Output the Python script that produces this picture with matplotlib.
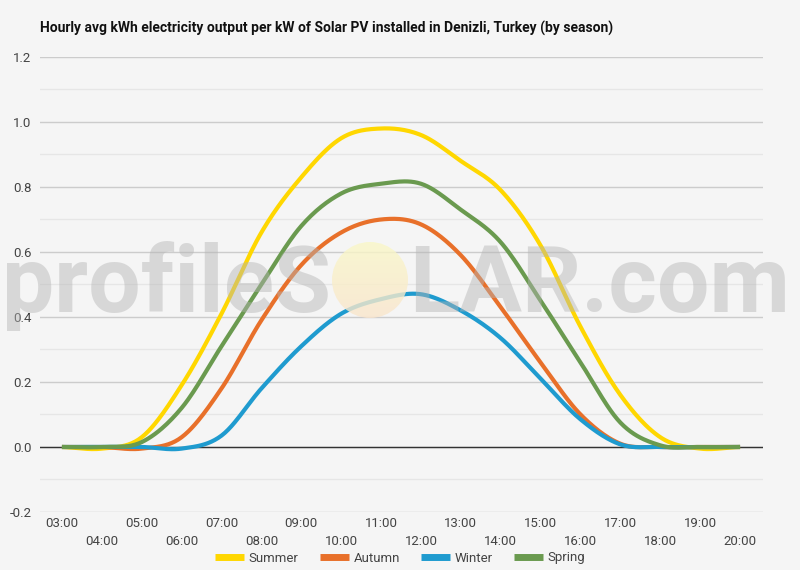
import numpy as np
import matplotlib
matplotlib.use("Agg")
import matplotlib.pyplot as plt
from matplotlib.patches import Ellipse

plt.rcParams['font.family'] = ['Roboto', 'DejaVu Sans']

hours = ['03:00', '04:00', '05:00', '06:00', '07:00', '08:00', '09:00', '10:00', '11:00',
         '12:00', '13:00', '14:00', '15:00', '16:00', '17:00', '18:00', '19:00', '20:00']
summer = [0, -0.005, 0.03, 0.19, 0.41, 0.66, 0.83, 0.95, 0.98, 0.96, 0.88, 0.79, 0.62, 0.37, 0.16, 0.03, -0.005, 0]
autumn = [0, 0, -0.005, 0.03, 0.18, 0.39, 0.56, 0.66, 0.70, 0.685, 0.59, 0.43, 0.26, 0.10, 0.01, 0, 0, 0]
winter = [0, 0, 0, -0.005, 0.035, 0.18, 0.31, 0.41, 0.455, 0.47, 0.42, 0.335, 0.21, 0.085, 0.008, 0, 0, 0]
spring = [0, 0, 0.015, 0.12, 0.31, 0.50, 0.68, 0.78, 0.81, 0.81, 0.73, 0.63, 0.45, 0.26, 0.075, 0.005, 0, 0]

seasons = ['Summer', 'Autumn', 'Winter', 'Spring']
colors = ['#FFD700', '#E8702A', '#1F9BCF', '#6A9A4F']


def smooth(vals, n=24):
    # catmull-rom curve through the hourly points
    p = np.asarray(vals, float)
    p = np.concatenate([[p[0]], p, [p[-1]]])
    xs, ys = [], []
    t = np.linspace(0, 1, n, endpoint=False)
    for i in range(len(vals) - 1):
        p0, p1, p2, p3 = p[i], p[i + 1], p[i + 2], p[i + 3]
        ys.append(0.5 * (2 * p1 + (-p0 + p2) * t + (2 * p0 - 5 * p1 + 4 * p2 - p3) * t ** 2
                         + (-p0 + 3 * p1 - 3 * p2 + p3) * t ** 3))
        xs.append(i + t)
    xs.append([len(vals) - 1])
    ys.append([vals[-1]])
    return np.concatenate(xs), np.concatenate(ys)


fig = plt.figure(figsize=(8, 5.7), dpi=100, facecolor='#f5f5f5')
ax = fig.add_axes([0.05, 0.1018, 0.904, 0.7982])
ax.set_facecolor('#f5f5f5')

for name, vals, c in zip(seasons, [summer, autumn, winter, spring], colors):
    x, y = smooth(vals)
    ax.plot(x, y, color=c, lw=3, label=name, solid_capstyle='butt', zorder=3)

ax.set_xlim(-0.55, 17.58)
ax.set_ylim(-0.2, 1.2)
ax.set_yticks(np.arange(-0.2, 1.21, 0.2))
ax.set_yticklabels(['-0.2', '0.0', '0.2', '0.4', '0.6', '0.8', '1.0', '1.2'])
ax.set_yticks(np.arange(-0.1, 1.2, 0.2), minor=True)
ax.grid(axis='y', which='major', color='#cccccc', lw=1)
ax.grid(axis='y', which='minor', color='#e6e6e6', lw=1)
ax.axhline(0, color='#333333', lw=1, zorder=2)
ax.set_axisbelow(True)

ax.set_xticks(range(len(hours)))
ax.set_xticklabels(hours)
for i, tk in enumerate(ax.xaxis.get_major_ticks()):
    tk.set_pad(3.5 if i % 2 == 0 else 16.5)
ax.tick_params(which='both', length=0, labelsize=9.5, labelcolor='#444444')
ax.tick_params(axis='y', pad=6)
for s in ax.spines.values():
    s.set_visible(False)

fig.text(0.05, 1 - 28 / 570, 'Hourly avg kWh electricity output per kW of Solar PV installed in Denizli, Turkey (by season)',
         fontsize=10, fontweight='bold', va='center', color='#111111')

# watermark over the plot
over = fig.add_axes([0, 0, 1, 1], zorder=5)
over.set_xlim(0, 800)
over.set_ylim(570, 0)
over.axis('off')
over.patch.set_alpha(0)
sun = Ellipse((370, 280), 76, 76, facecolor='none', edgecolor='none')
over.add_patch(sun)
grad = np.linspace(0, 1, 64)[:, None, None]
top = np.array([0.98, 0.97, 0.78])
bot = np.array([0.98, 0.90, 0.80])
img = np.broadcast_to(top * (1 - grad) + bot * grad, (64, 2, 3)).copy()
im = over.imshow(img, extent=(332, 408, 318, 242), aspect='auto', alpha=0.8, zorder=1)
im.set_clip_path(sun)
for txt, xpos, ha in [('profileS', 331, 'right'), ('LAR.com', 409, 'left')]:
    over.text(xpos, 312, txt, fontsize=67, fontweight='bold', family='Roboto',
              color='#b4b4b4', alpha=0.45, ha=ha, va='baseline', zorder=2)

leg = fig.legend(loc='center', bbox_to_anchor=(0.5, 1 - 558 / 570), ncol=4, frameon=False,
                 fontsize=9.5, handlelength=2.2, handletextpad=0.35, columnspacing=1.6)
for h in leg.get_lines():
    h.set_linewidth(5)
for t in leg.get_texts():
    t.set_color('#444444')

fig.savefig('out.png', dpi=100, facecolor=fig.get_facecolor())
